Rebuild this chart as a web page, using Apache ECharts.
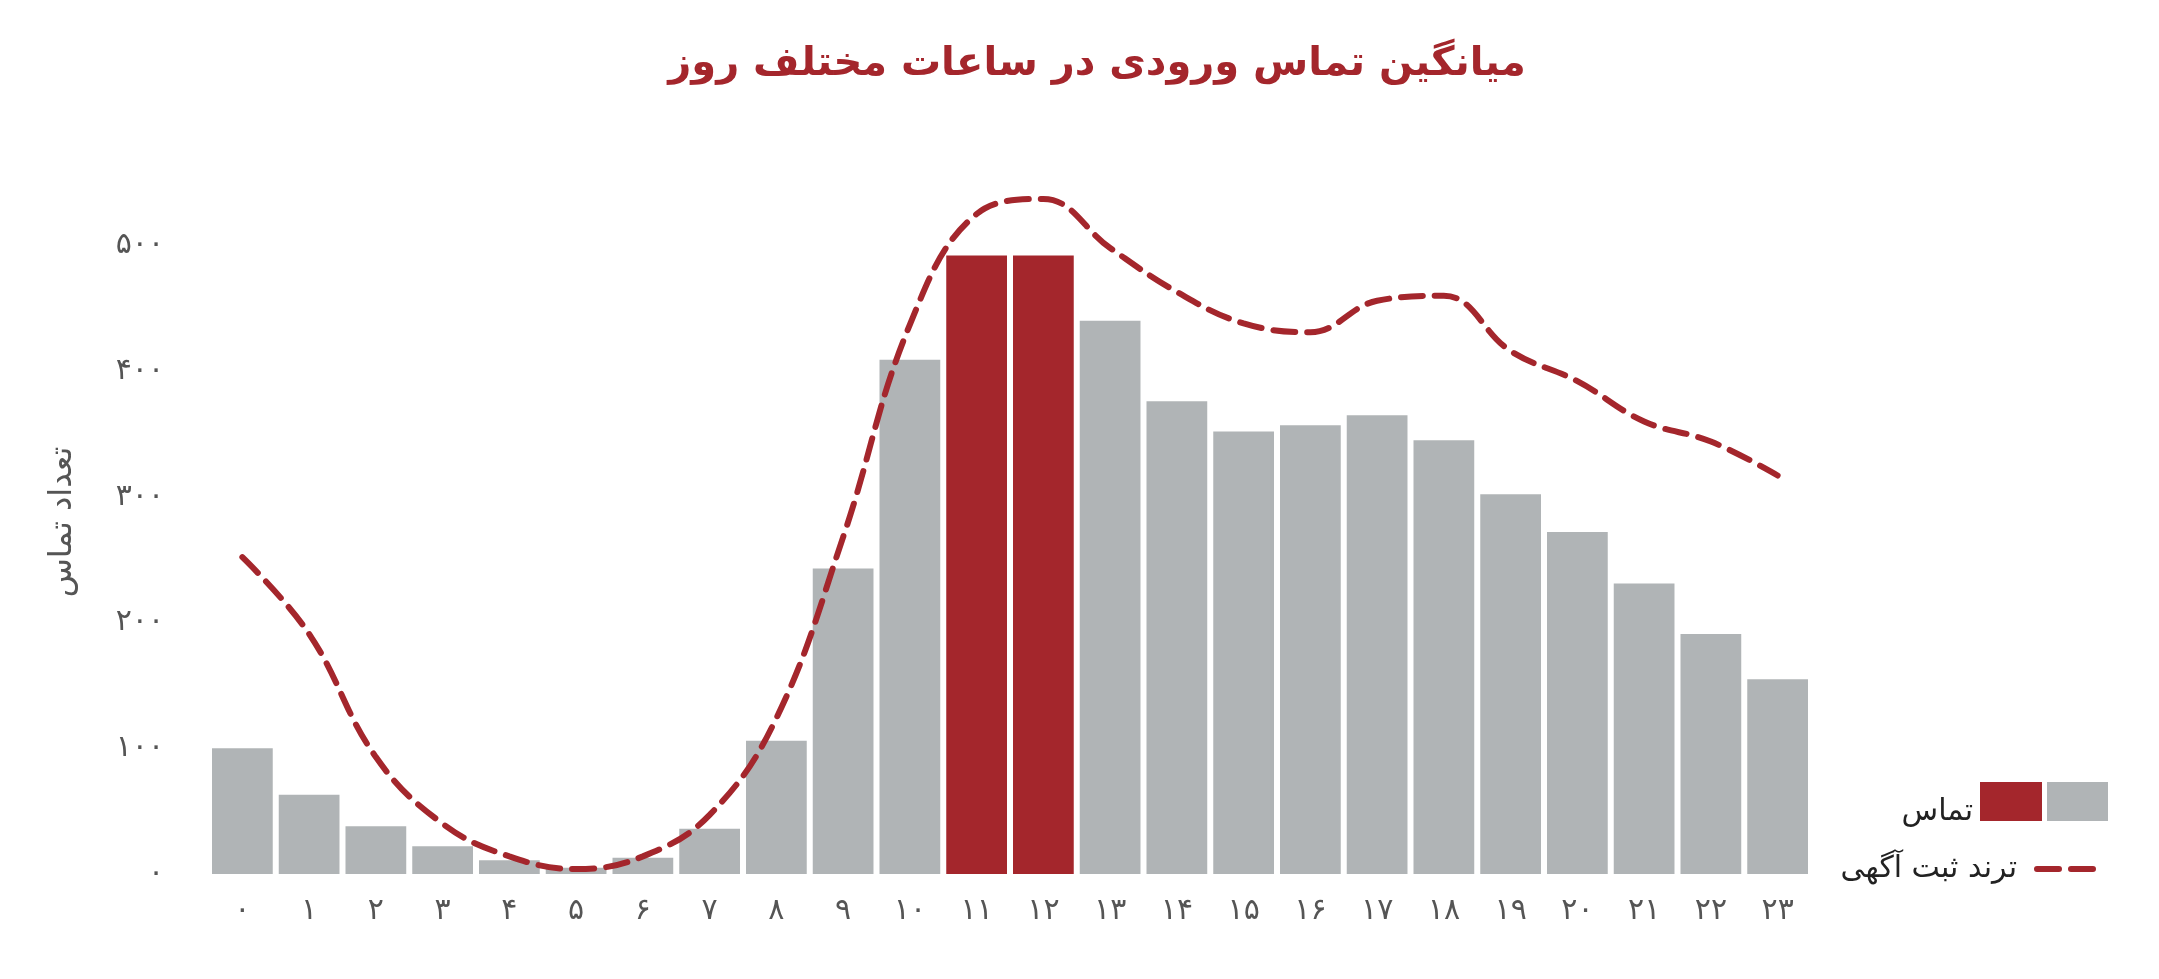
<!DOCTYPE html>
<html><head><meta charset="utf-8">
<script src="https://cdn.jsdelivr.net/npm/echarts@6/dist/echarts.min.js"></script>
<style>html,body{margin:0;padding:0;background:#fff}#c{width:2159px;height:979px}</style>
</head><body><div id="c"></div>
<script>
const hours = ['۰','۱','۲','۳','۴','۵','۶','۷','۸','۹','۱۰','۱۱','۱۲','۱۳','۱۴','۱۵','۱۶','۱۷','۱۸','۱۹','۲۰','۲۱','۲۲','۲۳'];
const calls = [100,63,38,22,11,5,13,36,106,243,409,492,492,440,376,352,357,365,345,302,272,231,191,155];
const trend = [252,191,93,40,14,4,14,47,124,268,437,525,537,498,463,438,431,456,460,416,392,360,344,317];
const highlight = [11,12];
const faDigits = n => String(n).replace(/\d/g, d => '۰۱۲۳۴۵۶۷۸۹'[d]);
const RED = '#a4262c', GRAY = '#b0b4b6';
const F = '"DejaVu Sans","Noto Sans",sans-serif';
const chart = echarts.init(document.getElementById('c'));
chart.setOption({
  animation:false,
  title:{text:'میانگین تماس ورودی در ساعات مختلف روز',left:1092,top:40,textAlign:'center',
    textStyle:{color:RED,fontSize:40,fontWeight:'bold',fontFamily:F}},
  grid:{left:209,right:348,top:170,bottom:105},
  xAxis:{type:'category',data:hours,axisLine:{show:false},axisTick:{show:false},
    axisLabel:{color:'#555',fontSize:30,fontFamily:F,margin:22}},
  yAxis:{type:'value',min:0,max:560,interval:100,splitLine:{show:false},
    name:'تعداد تماس',nameLocation:'middle',nameGap:130,nameRotate:90,
    nameTextStyle:{color:'#555',fontSize:32,fontFamily:F},
    axisLabel:{color:'#555',fontSize:30,fontFamily:F,margin:45,
      formatter:v=> v%100===0 ? faDigits(v) : ''}},
  series:[
    {type:'bar',name:'تماس',barCategoryGap:'9%',
      data:calls.map((v,i)=>({value:v,itemStyle:{color:highlight.includes(i)?RED:GRAY}}))},
    {type:'line',name:'ترند ثبت آگهی',data:trend,smooth:0.4,symbol:'none',
      lineStyle:{color:RED,width:6,type:[22,12],cap:'round'}}
  ],
  graphic:[
    {type:'rect',shape:{x:1980,y:782,width:62,height:39},style:{fill:RED}},
    {type:'rect',shape:{x:2047,y:782,width:61,height:39},style:{fill:GRAY}},
    {type:'text',x:1973,y:812,style:{text:'تماس',textAlign:'right',textVerticalAlign:'middle',fill:'#222',fontSize:30,fontFamily:F}},
    {type:'line',shape:{x1:2037,y1:869,x2:2105,y2:869},style:{stroke:RED,lineWidth:6,lineDash:[22,12],lineCap:'round'}},
    {type:'text',x:2017,y:869,style:{text:'ترند ثبت آگهی',textAlign:'right',textVerticalAlign:'middle',fill:'#222',fontSize:30,fontFamily:F}}
  ]
});
</script></body></html>
